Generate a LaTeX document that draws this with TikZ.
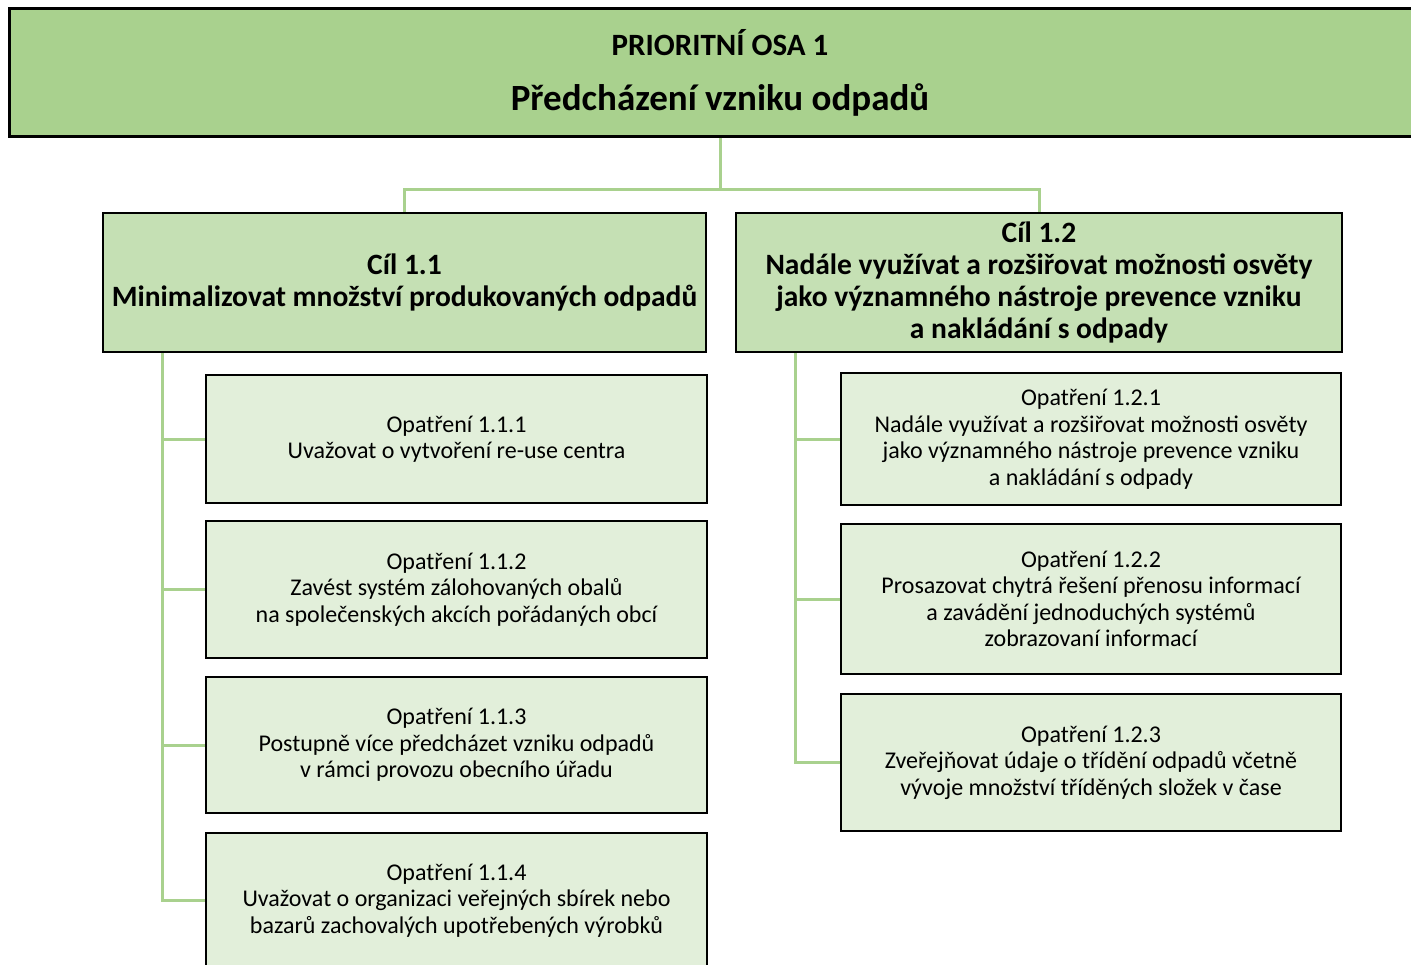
\documentclass[tikz,border=0pt]{standalone}
\usepackage{fontspec}
\setmainfont{Carlito}
\usetikzlibrary{backgrounds}
\definecolor{topg}{HTML}{A9D18E}
\definecolor{goalg}{HTML}{C5E0B4}
\definecolor{measg}{HTML}{E2EFDA}
\definecolor{lineg}{HTML}{A9D18E}
\tikzset{
  basebox/.style={draw=black, rectangle, align=center, inner sep=0pt, text=black},
  topbox/.style={basebox, fill=topg, line width=3pt, minimum width=1422pt, minimum height=128pt, font=\fontsize{31}{55}\selectfont\bfseries},
  goalbox/.style={basebox, fill=goalg, line width=2.5pt, minimum height=139pt, font=\fontsize{29.5}{32}\selectfont\bfseries},
  measbox/.style={basebox, fill=measg, line width=2.5pt, font=\fontsize{24}{26.5}\selectfont},
  conn/.style={draw=lineg, line width=3pt}
}
\begin{document}
\begin{tikzpicture}[x=1pt,y=-1pt]
\useasboundingbox (0,0) rectangle (1411,965);
\clip (0,0) rectangle (1411,965);
\node[topbox] (top) at (720,73) {PRIORITNÍ OSA 1\\{\fontsize{37}{55}\selectfont Předcházení vzniku odpadů}};
\node[goalbox, minimum width=603pt] (g1) at (404.5,282.5) {Cíl 1.1\\Minimalizovat množství produkovaných odpadů};
\node[goalbox, minimum width=606pt] (g2) at (1039,282.5) {Cíl 1.2\\Nadále využívat a rozšiřovat možnosti osvěty\\jako významného nástroje prevence vzniku\\a nakládání s odpady};
\node[measbox, minimum width=501pt, minimum height=128pt] (m111) at (456.5,439) {Opatření 1.1.1\\Uvažovat o vytvoření re-use centra};
\node[measbox, minimum width=501pt, minimum height=137pt] (m112) at (456.5,589.5) {Opatření 1.1.2\\Zavést systém zálohovaných obalů\\na společenských akcích pořádaných obcí};
\node[measbox, minimum width=501pt, minimum height=136pt] (m113) at (456.5,745) {Opatření 1.1.3\\Postupně více předcházet vzniku odpadů\\v rámci provozu obecního úřadu};
\node[measbox, minimum width=501pt, minimum height=135pt] (m114) at (456.5,900.5) {Opatření 1.1.4\\Uvažovat o organizaci veřejných sbírek nebo\\bazarů zachovalých upotřebených výrobků};
\node[measbox, minimum width=500pt, minimum height=132pt] (m121) at (1091,439) {Opatření 1.2.1\\Nadále využívat a rozšiřovat možnosti osvěty\\jako významného nástroje prevence vzniku\\a nakládání s odpady};
\node[measbox, minimum width=500pt, minimum height=150pt] (m122) at (1091,599) {Opatření 1.2.2\\Prosazovat chytrá řešení přenosu informací\\a zavádění jednoduchých systémů\\zobrazovaní informací};
\node[measbox, minimum width=500pt, minimum height=137pt] (m123) at (1091,762.5) {Opatření 1.2.3\\Zveřejňovat údaje o třídění odpadů včetně\\vývoje množství tříděných složek v čase};
\begin{scope}[on background layer]
\draw[conn] (top.south) -- ++(0,51) -| (g1.north);
\draw[conn] (top.south) -- ++(0,51) -| (g2.north);
\foreach \m in {m111,m112,m113,m114}
  \draw[conn] ([xshift=61pt]g1.south west) |- (\m.west);
\foreach \m in {m121,m122,m123}
  \draw[conn] ([xshift=61pt]g2.south west) |- (\m.west);
\end{scope}
\end{tikzpicture}
\end{document}
